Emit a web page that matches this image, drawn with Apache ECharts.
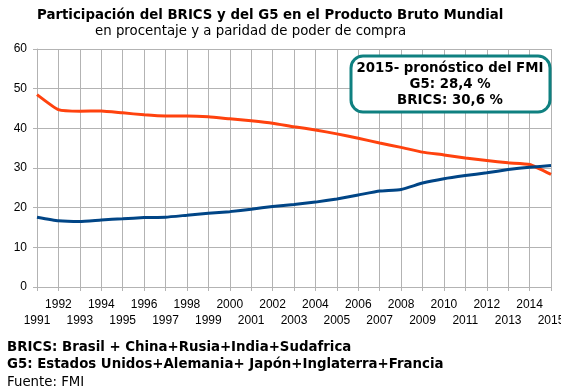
<!DOCTYPE html>
<html>
<head>
<meta charset="utf-8">
<script src="https://cdn.jsdelivr.net/npm/echarts@6/dist/echarts.min.js"></script>
<style>html,body{margin:0;padding:0;background:#fff;}#c{width:561px;height:391px;}</style>
</head>
<body>
<div id="c"></div>
<script>
var years = ['1991','1992','1993','1994','1995','1996','1997','1998','1999','2000','2001','2002','2003','2004','2005','2006','2007','2008','2009','2010','2011','2012','2013','2014','2015'];
var g5 = [48.5,44.7,44.3,44.4,43.9,43.4,43.1,43.1,42.9,42.4,41.9,41.3,40.4,39.6,38.6,37.5,36.3,35.2,34.0,33.3,32.5,31.9,31.3,30.9,28.4];
var brics = [17.6,16.7,16.5,16.9,17.2,17.5,17.6,18.1,18.6,19.0,19.6,20.3,20.8,21.4,22.2,23.2,24.2,24.6,26.2,27.3,28.1,28.8,29.6,30.2,30.6];
var yTicks = [0,10,20,30,40,50,60];
var titleText = 'Participación del BRICS y del G5 en el Producto Bruto Mundial';
var subtitleText = 'en procentaje y a paridad de poder de compra';
var noteLines = ['2015- pronóstico del FMI','G5: 28,4 %','BRICS: 30,6 %'];
var footLines = ['BRICS: Brasil + China+Rusia+India+Sudafrica','G5: Estados Unidos+Alemania+ Japón+Inglaterra+Francia'];
var sourceText = 'Fuente: FMI';

var chart = echarts.init(document.getElementById('c'));
var gray = '#b3b3b3';
chart.setOption({
  animation: false,
  grid: {left: 37, right: 10, top: 49, bottom: 104, containLabel: false, outerBoundsMode: 'none'},
  xAxis: {
    type: 'category', data: years, boundaryGap: false,
    axisLine: {show: true, lineStyle: {color: gray}},
    axisTick: {show: true, length: 4, interval: 0, lineStyle: {color: gray}},
    splitLine: {show: true, interval: 0, lineStyle: {color: gray, width: 1}},
    axisLabel: {
      color: '#000', fontFamily: 'Liberation Sans', fontSize: 12, margin: 10, lineHeight: 16,
      interval: 0, hideOverlap: false, alignMinLabel: 'center', alignMaxLabel: 'center',
      formatter: function(v){ return (Number(v) % 2 === 1) ? '\n' + v : v; }
    }
  },
  yAxis: {
    type: 'value', min: yTicks[0], max: yTicks[yTicks.length-1], interval: 10,
    axisLine: {show: true, lineStyle: {color: gray}},
    axisTick: {show: true, length: 4, lineStyle: {color: gray}},
    splitLine: {show: true, lineStyle: {color: gray, width: 1}},
    axisLabel: {color: '#000', fontFamily: 'Liberation Sans', fontSize: 12, margin: 10}
  },
  series: [
    {type: 'line', name: 'G5', data: g5, showSymbol: false, smooth: 0.15,
     lineStyle: {color: '#ff420e', width: 3}, itemStyle: {color: '#ff420e'}},
    {type: 'line', name: 'BRICS', data: brics, showSymbol: false, smooth: 0.15,
     lineStyle: {color: '#004586', width: 3}, itemStyle: {color: '#004586'}}
  ],
  graphic: [
    {type: 'text', x: 37, y: 9, style: {text: titleText, font: 'bold 13.33px "DejaVu Sans"', fill: '#000'}},
    {type: 'text', x: 95, y: 25, style: {text: subtitleText, font: '13.33px "DejaVu Sans"', fill: '#000'}},
    {type: 'rect', shape: {x: 351, y: 56, width: 199, height: 56, r: 12}, style: {fill: '#fff', stroke: '#0f8080', lineWidth: 3}, z: 100},
    {type: 'text', x: 450, y: 61, z: 101, style: {text: noteLines.join('\n'), font: 'bold 13.33px "DejaVu Sans"', fill: '#000', align: 'center', lineHeight: 16}},
    {type: 'text', x: 7, y: 339, style: {text: footLines.join('\n'), font: 'bold 13.33px "DejaVu Sans"', fill: '#000', lineHeight: 17}},
    {type: 'text', x: 7, y: 376, style: {text: sourceText, font: '13.33px "DejaVu Sans"', fill: '#000'}}
  ]
});
</script>
</body>
</html>
